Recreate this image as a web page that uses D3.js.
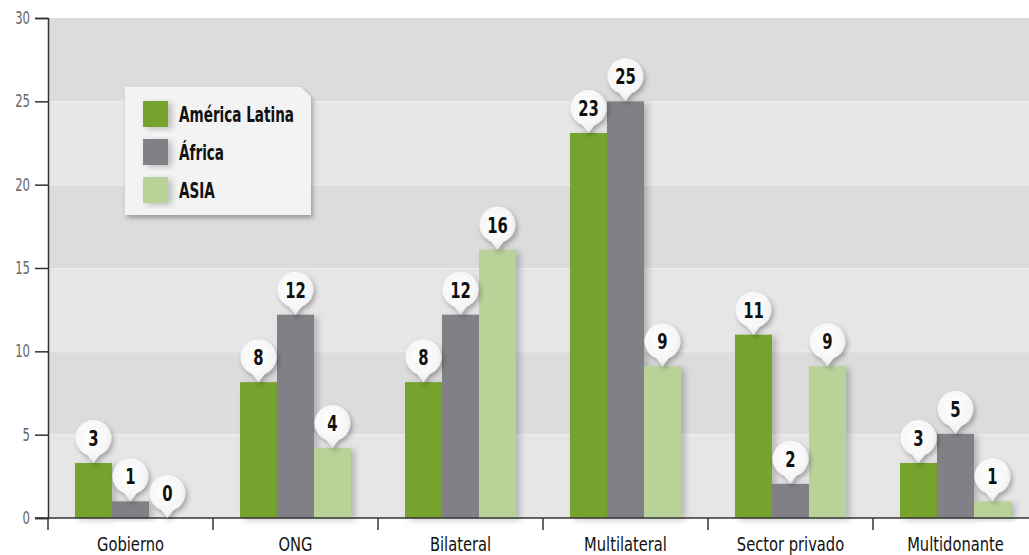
<!DOCTYPE html>
<html><head><meta charset="utf-8">
<script src="https://cdn.jsdelivr.net/npm/d3@7"></script>
<style>
html,body{margin:0;padding:0;background:#fff;}
svg{display:block;}
.cond{font-family:"DejaVu Sans Condensed","DejaVu Sans",sans-serif;font-stretch:condensed;}
</style></head>
<body>
<svg id="chart" width="1029" height="555"></svg>
<script>
const categories = ["Gobierno","ONG","Bilateral","Multilateral","Sector privado","Multidonante"];
const seriesNames = ["América Latina","África","ASIA"];
const americaLatina = [3.3, 8.15, 8.15, 23.1, 11.0, 3.3];
const africa = [1.0, 12.2, 12.2, 25.0, 2.05, 5.05];
const asia = [0.0, 4.2, 16.1, 9.1, 9.1, 1.0];
const yTicks = [0,5,10,15,20,25,30];
const colors = ["#76a22f","#818087","#b8d298"];

const series = [americaLatina, africa, asia];
const svg = d3.select("#chart");
const W = 1029, H = 555;
const margin = {left:48, top:18, bottom:37};
const x0 = d3.scaleBand().domain(categories).range([margin.left, margin.left + 6*165]).paddingInner(0).paddingOuter(0);
const x1 = d3.scaleBand().domain(seriesNames).range([0, x0.bandwidth()]).paddingOuter(0.73).paddingInner(0);
const y = d3.scaleLinear().domain([0,30]).range([H-margin.bottom, margin.top]);

const defs = svg.append("defs");
const sh = defs.append("filter").attr("id","barShadow").attr("x","-20%").attr("y","-10%").attr("width","160%").attr("height","130%");
sh.append("feDropShadow").attr("dx",4).attr("dy",2).attr("stdDeviation",3).attr("flood-color","#000").attr("flood-opacity",0.22);
const bsh = defs.append("filter").attr("id","bubShadow").attr("x","-50%").attr("y","-50%").attr("width","200%").attr("height","200%");
bsh.append("feDropShadow").attr("dx",2).attr("dy",3).attr("stdDeviation",2.5).attr("flood-color","#000").attr("flood-opacity",0.3);
const rg = defs.append("radialGradient").attr("id","bubGrad").attr("cx","45%").attr("cy","40%").attr("r","65%");
rg.append("stop").attr("offset","0%").attr("stop-color","#ffffff");
rg.append("stop").attr("offset","70%").attr("stop-color","#f6f6f6");
rg.append("stop").attr("offset","100%").attr("stop-color","#dedede");

// helper: condensed text
function ctext(g, x, yy, txt, size, sx, opts = {}) {
  return g.append("text").attr("class","cond")
    .attr("transform", `translate(${x},${yy}) scale(${sx},1)`)
    .attr("text-anchor", opts.anchor || "start")
    .attr("font-size", size).attr("font-weight", opts.weight || "normal")
    .attr("fill", opts.fill || "#111").text(txt);
}

// background bands
const bandsData = d3.range(yTicks.length-1).map(i => [yTicks[i], yTicks[i+1], i]);
svg.append("g").selectAll("rect").data(bandsData).join("rect")
  .attr("x", margin.left).attr("width", W - margin.left)
  .attr("y", d => y(d[1])).attr("height", d => y(d[0]) - y(d[1]))
  .attr("fill", d => d[2] % 2 === 0 ? "#e6e6e6" : "#dcdcdc");
svg.append("g").selectAll("line").data(yTicks.slice(1,-1)).join("line")
  .attr("x1", margin.left).attr("x2", W).attr("y1", d => y(d)+0.5).attr("y2", d => y(d)+0.5)
  .attr("stroke","#eeeeee").attr("stroke-width",1);

// legend
const lg = svg.append("g").attr("transform","translate(125,87)");
lg.append("path").attr("d","M0,0 H176 L186,10 V128 H0 Z").attr("fill","#f3f3f3").attr("filter","url(#bubShadow)");
seriesNames.forEach((n,i) => {
  const gy = 14 + i*38;
  lg.append("rect").attr("x",18).attr("y",gy).attr("width",25).attr("height",26).attr("fill",colors[i]).attr("filter","url(#barShadow)");
  ctext(lg, 54, gy+21, n, 21, 0.72, {weight:"bold"});
});

// bars
const barData = [];
categories.forEach((c,ci) => series.forEach((s,si) => barData.push({c, s: seriesNames[si], si, v: s[ci]})));
svg.append("g").selectAll("rect").data(barData).join("rect")
  .attr("x", d => x0(d.c) + x1(d.s)).attr("width", x1.bandwidth())
  .attr("y", d => y(d.v)).attr("height", d => y(0) - y(d.v))
  .attr("fill", d => colors[d.si]).attr("filter","url(#barShadow)");

// y axis
const yAxis = svg.append("g").attr("transform",`translate(${margin.left},0)`)
  .call(d3.axisLeft(y).tickValues(yTicks).tickSize(13).tickFormat(""));
yAxis.select(".domain").attr("stroke","#333").attr("stroke-width",1.5);
yAxis.selectAll(".tick line").attr("stroke","#333").attr("stroke-width",1.5);
const yl = svg.append("g");
yTicks.forEach(t => ctext(yl, 30, y(t)+6, String(t), 18, 0.72, {anchor:"end", fill:"#666", weight:"300"}));

// x axis
const xAxisG = svg.append("g").attr("transform",`translate(0,${y(0)})`);
xAxisG.append("line").attr("x1",margin.left-13).attr("x2",W).attr("stroke","#333").attr("stroke-width",1.5);
xAxisG.selectAll("line.tk").data(categories).join("line").attr("class","tk")
  .attr("x1", d=>x0(d)).attr("x2", d=>x0(d)).attr("y1",0).attr("y2",12).attr("stroke","#333").attr("stroke-width",1.5);
categories.forEach(c => ctext(xAxisG, x0(c) + x0.bandwidth()/2, 33, c, 19, 0.86, {anchor:"middle"}));

// bubbles
const R = 18;
const k = -R-4+Math.sqrt(R*R-36);
const bub = svg.append("g").selectAll("g").data(barData).join("g")
  .attr("transform", d => `translate(${x0(d.c) + x1(d.s) + x1.bandwidth()/2},${y(d.v)})`);
bub.append("path")
  .attr("d", `M-6,${k} L0,3 L6,${k} A${R},${R} 0 1 0 -6,${k} Z`)
  .attr("transform","translate(0,-3)")
  .attr("fill","url(#bubGrad)").attr("filter","url(#bubShadow)");
bub.each(function(d){ ctext(d3.select(this), 0, -17, String(Math.round(d.v)), 22, 0.75, {anchor:"middle", weight:"bold"}); });
</script>
</body></html>
